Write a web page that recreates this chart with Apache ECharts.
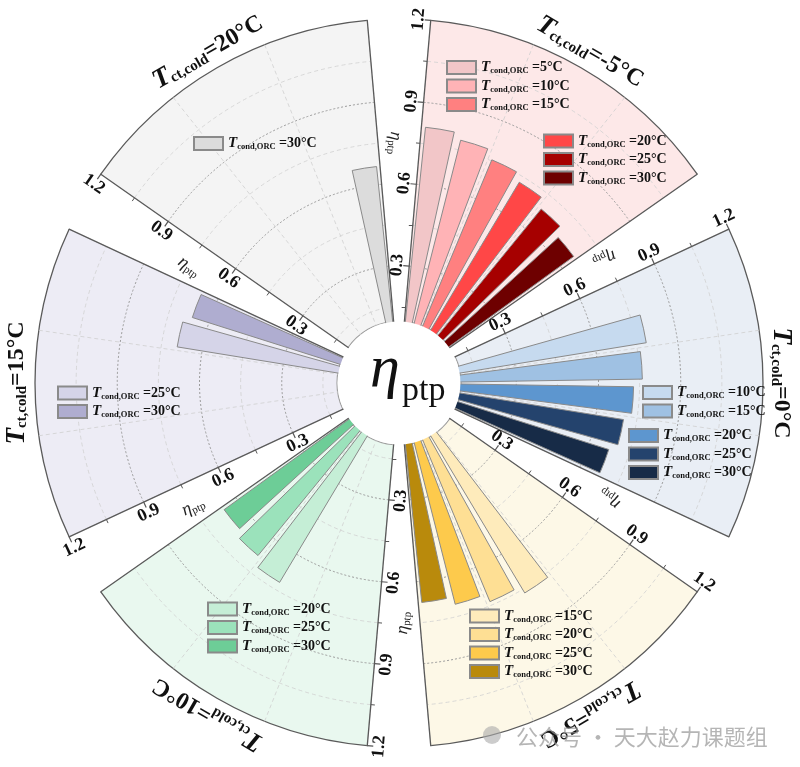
<!DOCTYPE html>
<html><head><meta charset="utf-8">
<script src="https://cdn.jsdelivr.net/npm/echarts@6/dist/echarts.min.js"></script>
<style>html,body{margin:0;padding:0;background:#fff}#c{width:800px;height:767px}</style>
</head><body><div id="c"></div>
<script>
// ---------- data ----------
const condTemps = ['5', '10', '15', '20', '25', '30'];          // T_cond,ORC (°C), angular slots
const coldTemps = ['-5', '0', '5', '10', '15', '20'];           // T_ct,cold (°C), one sector each
const etaColdM5 = [0.810, 0.786, 0.754, 0.726, 0.692, 0.659];
const etaCold0  = [null, 0.786, 0.760, 0.728, 0.702, 0.675];
const etaCold5  = [null, null, 0.765, 0.736, 0.705, 0.677];
const etaCold10 = [null, null, null, 0.720, 0.685, 0.660];
const etaCold15 = [null, null, null, null, 0.692, 0.663];
const etaCold20 = [null, null, null, null, null, 0.666];
const radiusTickLabels = ['0.3', '0.6', '0.9', '1.2'];

// ---------- style / layout ----------
const CX = 399, CY = 383, R0 = 35, R1 = 364, RHOLE = 62;
const AXMAX = 1.2, MAJOR = 0.3, MINOR = 0.15;
const serif = '"Liberation Serif","Times New Roman",serif';
const sectors = [
  { eta: etaColdM5, mid: 60, bg: '#fde8e8', colors: ['#f2c6c8', '#ffb3b6', '#ff8080', '#ff4747', '#a60000', '#6e0000'],
    legends: [{ slots: [0, 1, 2], left: 446, top: 59.5 }, { slots: [3, 4, 5], left: 543, top: 133 }] },
  { eta: etaCold0, mid: 0, bg: '#e9eef5', colors: [null, '#c6daef', '#9fc1e3', '#5d96cf', '#24436d', '#172b47'],
    legends: [{ slots: [1, 2], left: 642, top: 384.5 }, { slots: [3, 4, 5], left: 628, top: 427.5 }] },
  { eta: etaCold5, mid: 300, bg: '#fdf8e7', colors: [null, null, '#feebbb', '#fedf94', '#fdca4c', '#b98a0c'],
    legends: [{ slots: [2, 3, 4, 5], left: 469, top: 608 }] },
  { eta: etaCold10, mid: 240, bg: '#e9f8ef', colors: [null, null, null, '#c5eed6', '#9be2bb', '#6dcd97'],
    legends: [{ slots: [3, 4, 5], left: 207, top: 601 }] },
  { eta: etaCold15, mid: 180, bg: '#edecf5', colors: [null, null, null, null, '#d5d4e8', '#afadd0'],
    legends: [{ slots: [4, 5], left: 57, top: 385 }] },
  { eta: etaCold20, mid: 120, bg: '#f4f4f4', colors: [null, null, null, null, null, '#dcdcdc'],
    legends: [{ slots: [5], left: 193, top: 135.5 }] }
];

function normRot(a) { a = ((a % 360) + 360) % 360; if (a > 180) a -= 360; if (a > 90) a -= 180; if (a < -90) a += 180; return a; }
const rad = d => d * Math.PI / 180;
const ptAt = (r, a) => [CX + r * Math.cos(rad(a)), CY - r * Math.sin(rad(a))];

const polar = [], angleAxis = [], radiusAxis = [], series = [], legend = [], graphic = [];
const edgeLine = { show: true, lineStyle: { color: '#5a5a5a', width: 1.3 } };

sectors.forEach((s, i) => {
  const a0 = s.mid + 25, a1 = s.mid - 25;
  const pMain = polar.length;
  polar.push({ center: [CX, CY], radius: [R0, R1] });
  angleAxis.push({
    polarIndex: pMain, type: 'category', data: condTemps, startAngle: a0, endAngle: a1, clockwise: true, boundaryGap: true, z: 2,
    axisLine: { show: false }, axisTick: { show: false }, axisLabel: { show: false },
    splitLine: { show: true, lineStyle: { color: '#cfcfcf', type: [4, 3], width: 0.8 } },
    splitArea: { show: false }
  });
  radiusAxis.push({
    polarIndex: pMain, type: 'value', min: 0, max: AXMAX, interval: MAJOR, z: 4,
    axisLine: edgeLine,
    axisTick: { show: true, inside: true, length: 6, lineStyle: { color: '#555', width: 1.2 } },
    minorTick: { show: true, splitNumber: 2, length: 4, lineStyle: { color: '#555', width: 1 } },
    axisLabel: { show: true, rotate: normRot(a0), margin: 3, fontFamily: serif, fontWeight: 'bold', fontSize: 18, color: '#111',
      formatter: v => { const t = v.toFixed(1); return radiusTickLabels.indexOf(t) >= 0 ? t : ''; } },
    splitLine: { show: false }, minorSplitLine: { show: false }
  });
  // second polar only to draw the other straight edge of the sector
  const pEdge = polar.length;
  polar.push({ center: [CX, CY], radius: [R0, R1] });
  angleAxis.push({
    polarIndex: pEdge, type: 'category', data: condTemps, startAngle: a1, endAngle: a0, clockwise: false, z: 4,
    axisLine: { show: false }, axisTick: { show: false }, axisLabel: { show: false }, splitLine: { show: false }, splitArea: { show: false }
  });
  radiusAxis.push({
    polarIndex: pEdge, type: 'value', min: 0, max: AXMAX, z: 4,
    axisLine: edgeLine, axisTick: { show: false }, axisLabel: { show: false }, splitLine: { show: false }
  });

  // sector background, dashed arcs, outer / inner borders (radii from the radius axis scale)
  series.push({
    type: 'custom', coordinateSystem: 'polar', polarIndex: pMain, z: 1, silent: true,
    data: [[0, 0]],
    renderItem: (params, api) => {
      const cs = params.coordSys;
      const c0 = api.coord([0, 0]);
      const rOf = v => { const p = api.coord([v, 0]); return Math.hypot(p[0] - cs.cx, p[1] - cs.cy); };
      const sa = -rad(a0), ea = -rad(a1);
      const children = [{ type: 'sector', shape: { cx: cs.cx, cy: cs.cy, r0: RHOLE, r: rOf(AXMAX), startAngle: sa, endAngle: ea, clockwise: true },
        style: { fill: s.bg, stroke: null } }];
      const n = Math.round(AXMAX / MINOR);
      for (let k = 1; k < n; k++) {
        const v = k * MINOR, major = k % 2 === 0;
        children.push({ type: 'arc', shape: { cx: cs.cx, cy: cs.cy, r: rOf(v), startAngle: sa, endAngle: ea, clockwise: true },
          style: { fill: null, stroke: major ? '#9c9c9c' : '#d0d0d0', lineWidth: major ? 1 : 0.8, lineDash: major ? [2, 2] : [4, 3] } });
      }
      children.push({ type: 'arc', shape: { cx: cs.cx, cy: cs.cy, r: rOf(AXMAX), startAngle: sa, endAngle: ea, clockwise: true },
        style: { fill: null, stroke: '#5a5a5a', lineWidth: 1.3 } });
      children.push({ type: 'arc', shape: { cx: cs.cx, cy: cs.cy, r: RHOLE, startAngle: sa, endAngle: ea, clockwise: true },
        style: { fill: null, stroke: '#a0a0a0', lineWidth: 1.2 }, z2: 100 });
      return { type: 'group', children };
    }
  });

  const names = [];
  s.eta.forEach((v, j) => {
    if (v == null) return;
    const name = coldTemps[i] + '|' + condTemps[j];
    names[j] = name;
    series.push({
      type: 'bar', coordinateSystem: 'polar', polarIndex: pMain, name, stack: 'st' + i,
      data: condTemps.map((_, k) => (k === j ? s.eta[k] : null)),
      barCategoryGap: '22%', z: 3,
      itemStyle: { color: s.colors[j], borderColor: '#8a8a8a', borderWidth: 1 }
    });
  });
  s.legends.forEach(L => {
    legend.push({
      data: L.slots.map(j => names[j]), orient: 'vertical', left: L.left, top: L.top, padding: 0,
      itemWidth: 29, itemHeight: 13, itemGap: 2.5, selectedMode: false, icon: 'rect',
      formatter: n => '{t|T}{s|cond,ORC} {v|=' + n.split('|')[1] + '°C}',
      textStyle: { rich: {
        t: { fontFamily: serif, fontSize: 15, fontStyle: 'italic', fontWeight: 'bold', color: '#111', lineHeight: 18 },
        s: { fontFamily: serif, fontSize: 8.5, fontWeight: 'bold', color: '#111', lineHeight: 18, padding: [7, 0, 0, 0] },
        v: { fontFamily: serif, fontSize: 14, fontWeight: 'bold', color: '#111', lineHeight: 18 }
      } }
    });
  });

  // axis name (eta_ptp) beside the labelled edge
  const np = ptAt(240, a0 + 6);
  graphic.push({ type: 'text', x: np[0], y: np[1], rotation: rad(a0 - 180), z: 60,
    style: { text: '{e|η}{p|ptp}', align: 'center', verticalAlign: 'middle',
      rich: { e: { fontFamily: serif, fontSize: 18, fontStyle: 'italic', fill: '#222', lineHeight: 20 },
              p: { fontFamily: serif, fontSize: 11, fill: '#222', lineHeight: 20, padding: [8, 0, 0, 0] } } } });
  // sector title along the outer arc
  const tp = ptAt(382, s.mid);
  graphic.push({ type: 'text', x: tp[0], y: tp[1], rotation: rad(s.mid - 90), z: 60,
    style: { text: '{T|T}{s|ct,cold}{v|=' + coldTemps[i] + '°C}', align: 'center', verticalAlign: 'middle',
      rich: { T: { fontFamily: serif, fontSize: 27, fontStyle: 'italic', fontWeight: 'bold', fill: '#111', lineHeight: 30 },
              s: { fontFamily: serif, fontSize: 15, fontWeight: 'bold', fill: '#111', lineHeight: 30, padding: [10, 0, 0, 0] },
              v: { fontFamily: serif, fontSize: 24, fontWeight: 'bold', fill: '#111', lineHeight: 30 } } } });
});

// centre disc and label
graphic.push({ type: 'circle', shape: { cx: CX, cy: CY, r: RHOLE - 0.6 }, style: { fill: '#fff' }, z: 50 });
graphic.push({ type: 'text', x: 385, y: 370, z: 60,
  style: { text: 'η', align: 'center', verticalAlign: 'middle', fontFamily: serif, fontSize: 60, fontStyle: 'italic', fill: '#111' } });
graphic.push({ type: 'text', x: 402, y: 391, z: 60,
  style: { text: 'ptp', align: 'left', verticalAlign: 'middle', fontFamily: serif, fontSize: 34, fill: '#111' } });
// watermark
graphic.push({ type: 'circle', shape: { cx: 492, cy: 735, r: 9 }, style: { fill: 'rgba(170,170,170,0.6)' }, z: 60 });
graphic.push({ type: 'text', x: 516, y: 737, z: 60,
  style: { text: '公众号 · 天大赵力课题组', align: 'left', verticalAlign: 'middle', fontFamily: '"Noto Sans CJK SC"', fontSize: 22, fill: 'rgba(150,150,150,0.7)' } });

const chart = echarts.init(document.getElementById('c'), null, { renderer: 'canvas' });
chart.setOption({
  backgroundColor: '#fff', animation: false,
  polar, angleAxis, radiusAxis, series, legend, graphic
});
</script></body></html>
